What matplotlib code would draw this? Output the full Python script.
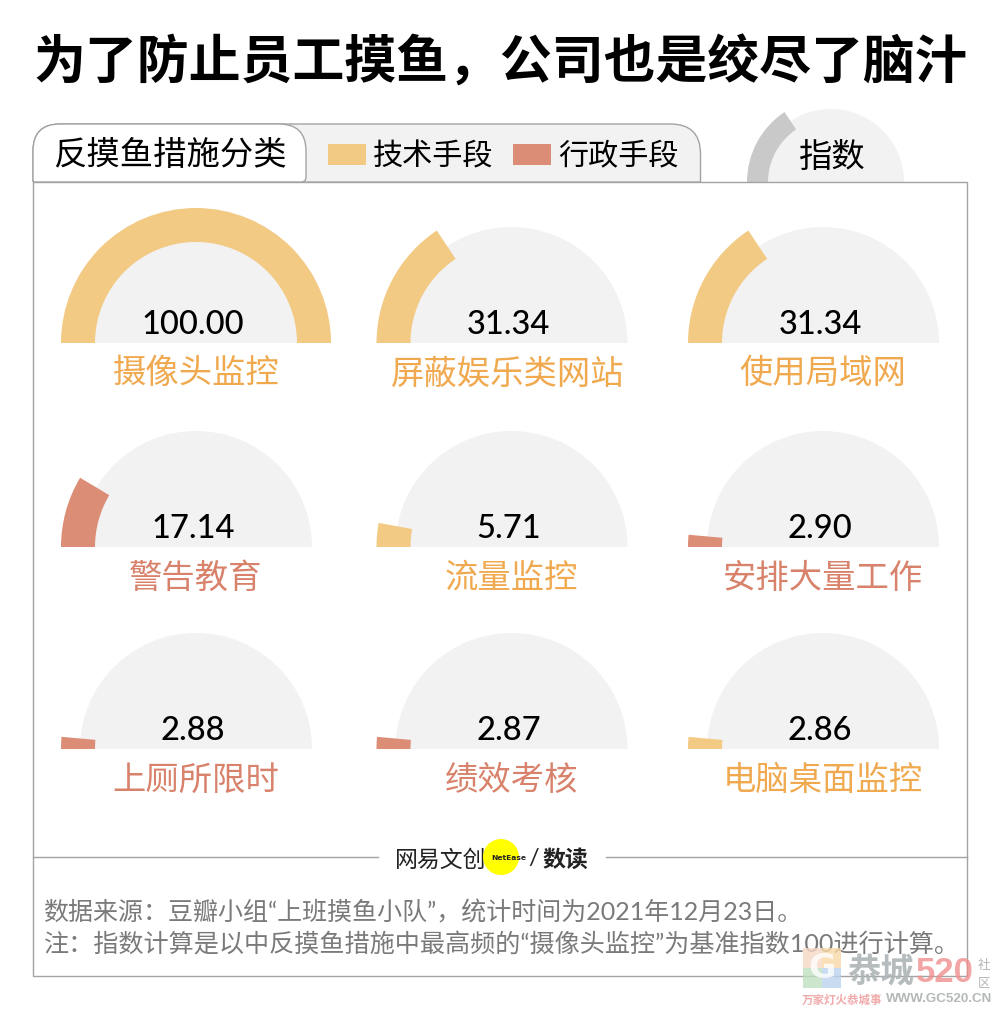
import matplotlib
matplotlib.use('Agg')
import matplotlib.pyplot as plt
from matplotlib.patches import Wedge, Rectangle, Circle, PathPatch
from matplotlib.path import Path

CJK = ['Lato', 'Noto Sans CJK SC', 'DejaVu Sans']
plt.rcParams['font.family'] = ['Noto Sans CJK SC', 'DejaVu Sans']

# data
title = '为了防止员工摸鱼，公司也是绞尽了脑汁'
labels = ['摄像头监控', '屏蔽娱乐类网站', '使用局域网',
          '警告教育', '流量监控', '安排大量工作',
          '上厕所限时', '绩效考核', '电脑桌面监控']
values = [100.00, 31.34, 31.34, 17.14, 5.71, 2.90, 2.88, 2.87, 2.86]
kinds = ['tech', 'tech', 'tech', 'admin', 'tech', 'admin', 'admin', 'admin', 'tech']
legend_names = ['技术手段', '行政手段']
key_value = 31.34
source_lines = ['数据来源：豆瓣小组“上班摸鱼小队”，统计时间为2021年12月23日。',
                '注：指数计算是以中反摸鱼措施中最高频的“摄像头监控”为基准指数100进行计算。']

# colours
BAR = {'tech': '#F2CA84', 'admin': '#DC8D75'}
TXT = {'tech': '#F0A94F', 'admin': '#D9826B'}
BACK = '#F2F2F2'
EDGE = '#A3A3A3'

# layout in pixels
col_x = [196, 511.5, 823]
row_y = [343, 547, 749]
label_dx = [0, -4, 0, 0, 0, 0, 0, 0, 0]


def gauge(ax, cx, cy, value, color, r_back=116, r_out=135, r_in=101):
    ax.add_patch(Wedge((cx, cy), r_back, 180, 360, fc=BACK, ec='none', zorder=2))
    ax.add_patch(Wedge((cx, cy), r_out, 180, 180 + value * 1.8,
                       width=r_out - r_in, fc=color, ec='none', zorder=3))


def tab(ax, x0, x1, r_left, r_right, corner, fc):
    top, bot = 124, 182
    verts = [(x0, bot), (x0, top + r_left), (x0, top), (x0 + r_left, top),
             (x1 - r_right, top), (x1, top), (x1, top + r_right)]
    codes = [Path.MOVETO, Path.LINETO, Path.CURVE3, Path.CURVE3,
             Path.LINETO, Path.CURVE3, Path.CURVE3]
    if corner:
        verts += [(x1, bot - corner), (x1, bot), (x1 - corner, bot), (x0, bot)]
        codes += [Path.LINETO, Path.CURVE3, Path.CURVE3, Path.LINETO]
    else:
        verts += [(x1, bot), (x0, bot)]
        codes += [Path.LINETO, Path.LINETO]
    ax.add_patch(PathPatch(Path(verts, codes), fc=fc, ec=EDGE, lw=1, zorder=5))


fig = plt.figure(figsize=(10, 10.11), dpi=100)
ax = fig.add_axes([0, 0, 1, 1])
ax.set_xlim(0, 1000)
ax.set_ylim(1011, 0)
ax.axis('off')

ax.text(500.5, 63, title, ha='center', va='center', fontsize=37.4, fontweight='bold', color='black')

# index key at top right, sits behind the frame
gauge(ax, 831, 182, key_value, '#C9C9C9', r_back=73, r_out=84, r_in=63)
ax.text(832, 157, '指数', ha='center', va='center', fontsize=24, fontweight='medium', color='black', zorder=6)

# frame
ax.add_patch(Rectangle((33, 182), 934, 793.5, fc='none', ec=EDGE, lw=1, zorder=4))
ax.plot([33, 378], [857, 857], color=EDGE, lw=1, zorder=4)
ax.plot([606, 967], [857, 857], color=EDGE, lw=1, zorder=4)

# tabs
tab(ax, 33, 700.5, 27, 30, 0, BACK)
tab(ax, 33, 306, 27, 27, 5, 'white')
ax.text(170, 156, '反摸鱼措施分类', ha='center', va='center', fontsize=24, color='black', zorder=6)

# legend
for name, kind, x in zip(legend_names, ['tech', 'admin'], [328, 513]):
    ax.add_patch(Rectangle((x, 144), 38, 21, fc=BAR[kind], ec='none', zorder=6))
    ax.text(x + 45, 157, name, ha='left', va='center', fontsize=21.7, color='black', zorder=6)

# gauges
for i in range(9):
    cx = col_x[i % 3]
    cy = row_y[i // 3]
    gauge(ax, cx, cy, values[i], BAR[kinds[i]])
    ax.text(cx - 3, cy - 18, '%.2f' % values[i], ha='center', va='center', fontsize=23.5,
            family='Lato', fontweight='medium', color='black', zorder=6)
    ax.text(cx + label_dx[i], cy + 31, labels[i], ha='center', va='center', fontsize=24,
            color=TXT[kinds[i]], zorder=6)

# logo
ax.text(440.5, 860, '网易文创', ha='center', va='center', fontsize=16.5, color='#222222')
ax.add_patch(Circle((501, 857), 18, fc='#FFFF00', ec='none', zorder=5))
ax.text(491, 858, 'NetEase', ha='left', va='center', fontsize=5.4, fontweight='bold',
        family='DejaVu Sans', color='#222222', zorder=6)
ax.text(534, 858, '/', ha='center', va='center', fontsize=17, family='Lato', color='#222222')
ax.text(565.5, 860, '数读', ha='center', va='center', fontsize=16.5, fontweight='bold', color='#222222')

# source notes
ax.text(43.5, 912, source_lines[0], ha='left', va='center', fontsize=18, family=CJK, color='#7A7A7A', zorder=6)
ax.text(43.5, 944, source_lines[1], ha='left', va='center', fontsize=18.1, family=CJK, color='#7A7A7A', zorder=6)

# watermark
for x, y, c in [(803, 948, '#F6D9C4'), (822, 948, '#F9D9A8'), (803, 968, '#BFE0C0'), (822, 968, '#BBD3EE')]:
    ax.add_patch(Rectangle((x, y), 19, 20, fc=c, ec='none', alpha=0.8, zorder=7))
ax.text(822, 968, 'G', ha='center', va='center', fontsize=24, fontweight='bold',
        family='DejaVu Sans', color='white', alpha=0.8, zorder=8)
ax.text(881, 972, '恭城', ha='center', va='center', fontsize=24, fontweight='bold', color='#AEB5B7', alpha=0.9, zorder=8)
ax.text(945, 972, '520', ha='center', va='center', fontsize=25, fontweight='bold', family='Liberation Sans', color='#F08F8F', alpha=0.8, zorder=8)
ax.text(984, 965, '社', ha='center', va='center', fontsize=9, color='#B5B5B5', zorder=8)
ax.text(984, 984, '区', ha='center', va='center', fontsize=9, color='#B5B5B5', zorder=8)
ax.text(842, 1000, '万家灯火恭城事', ha='center', va='center', fontsize=8.3, fontweight='bold', color='#F0AAAA', zorder=8)
ax.text(939.5, 999, 'WWW.GC520.CN', ha='center', va='center', fontsize=9.6, fontweight='bold',
        family='Liberation Sans', color='#B5B8B8', zorder=8)

fig.savefig('out.png', dpi=100)
